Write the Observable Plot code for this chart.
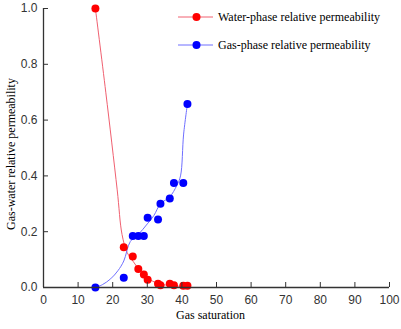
<!DOCTYPE html>
<html>
<head>
<meta charset="utf-8">
<script src="https://cdn.jsdelivr.net/npm/d3@7"></script>
<script src="https://cdn.jsdelivr.net/npm/@observablehq/plot@0.6"></script>
<style>
  body { margin: 0; background: #fff; }
  #wrap { position: relative; width: 401px; height: 329px; }
  .legend { position: absolute; left: 178px; font-family: "Liberation Serif", "Times New Roman", serif; font-size: 12px; color: #000; }
  .legend .item { position: absolute; white-space: nowrap; display: flex; align-items: center; }
  .legend svg { display: block; margin-right: 5px; }
</style>
</head>
<body>
<div id="wrap"></div>
<script>
// Measured points: water-phase relative permeability
const waterSg = [15, 23.2, 25.8, 27.4, 29.0, 30.1, 33.1, 33.8, 36.5, 37.7, 40.4, 41.6];
const waterKr = [1.0, 0.144, 0.111, 0.066, 0.047, 0.028, 0.013, 0.008, 0.013, 0.008, 0.006, 0.006];
// Measured points: gas-phase relative permeability
const gasSg = [15, 23.2, 25.8, 27.4, 29.0, 30.1, 33.1, 33.8, 36.5, 37.7, 40.4, 41.6];
const gasKr = [0.0, 0.035, 0.185, 0.185, 0.185, 0.25, 0.244, 0.30, 0.319, 0.375, 0.375, 0.658];
// Fitted curves
const waterFitSg = [15, 18, 21.3, 22.7, 24.2, 26, 28, 30, 33, 36, 40, 42];
const waterFitKr = [1.0, 0.70, 0.35, 0.19, 0.125, 0.092, 0.058, 0.034, 0.015, 0.008, 0.004, 0.003];
const gasFitSg = [15, 17, 19.4, 21.5, 23.2, 25.1, 27.4, 30, 31.9, 33.8, 36.5, 38.5, 39.6, 40.5, 41.6];
const gasFitKr = [0.0, 0.01, 0.031, 0.06, 0.095, 0.165, 0.19, 0.228, 0.258, 0.30, 0.325, 0.365, 0.40, 0.55, 0.658];
const xTicks = [0, 10, 20, 30, 40, 50, 60, 70, 80, 90, 100];
const yTicks = [0, 0.2, 0.4, 0.6, 0.8, 1.0];
const seriesNames = ["Water-phase relative permeability", "Gas-phase relative permeability"];
const dotColors = ["#ff0000", "#0000ff"];
const lineColors = ["#f06070", "#6f6fff"];

const water = waterSg.map((x, i) => ({x, y: waterKr[i]}));
const gas = gasSg.map((x, i) => ({x, y: gasKr[i]}));
const waterFit = waterFitSg.map((x, i) => ({x, y: waterFitKr[i]}));
const gasFit = gasFitSg.map((x, i) => ({x, y: gasFitKr[i]}));

const axisColor = "#333";
const chart = Plot.plot({
  width: 401,
  height: 329,
  marginLeft: 43,
  marginRight: 12,
  marginTop: 8,
  marginBottom: 42,
  style: {fontFamily: "'Liberation Sans', Arial, sans-serif", fontSize: "12px", color: "#333", background: "#fff"},
  x: {domain: [0, 100]},
  y: {domain: [0, 1]},
  marks: [
    Plot.line(waterFit, {x: "x", y: "y", stroke: lineColors[0], strokeWidth: 1, curve: "catmull-rom"}),
    Plot.line(gasFit, {x: "x", y: "y", stroke: lineColors[1], strokeWidth: 1, curve: "catmull-rom"}),
    Plot.dot(water, {x: "x", y: "y", r: 4, fill: dotColors[0]}),
    Plot.dot(gas, {x: "x", y: "y", r: 4, fill: dotColors[1]}),
    Plot.axisX({ticks: xTicks, tickSize: 5, dy: -5, tickPadding: 8, label: null, stroke: axisColor, tickFormat: d => String(d)}),
    Plot.axisY({ticks: yTicks, tickSize: 5, dx: 5, tickPadding: 6, label: null, stroke: axisColor, tickFormat: d3.format(".1f")}),
    Plot.ruleX([0], {stroke: axisColor, strokeWidth: 1.3}),
    Plot.ruleY([0], {stroke: axisColor, strokeWidth: 1.3}),
    Plot.text(["Gas saturation"], {frameAnchor: "bottom", dy: 31, dx: -6, fontFamily: "'Liberation Serif', 'Times New Roman', serif", fontSize: 12, fill: "#000"}),
    Plot.text(["Gas-water relative permeability"], {frameAnchor: "left", textAnchor: "middle", dx: -32, dy: 6, rotate: -90, fontFamily: "'Liberation Serif', 'Times New Roman', serif", fontSize: 12, fill: "#000"})
  ]
});
const wrap = document.getElementById("wrap");
wrap.appendChild(chart);

const legend = document.createElement("div");
legend.className = "legend";
legend.style.top = "0px";
const legendTops = [9, 37];
seriesNames.forEach((name, i) => {
  const item = document.createElement("div");
  item.className = "item";
  item.style.top = legendTops[i] + "px";
  item.innerHTML = `<svg width="35" height="16"><line x1="0" y1="8" x2="35" y2="8" stroke="${lineColors[i]}" stroke-width="1"/><circle cx="18.5" cy="8" r="4" fill="${dotColors[i]}"/></svg><span>${name}</span>`;
  legend.appendChild(item);
});
wrap.appendChild(legend);
</script>
</body>
</html>
